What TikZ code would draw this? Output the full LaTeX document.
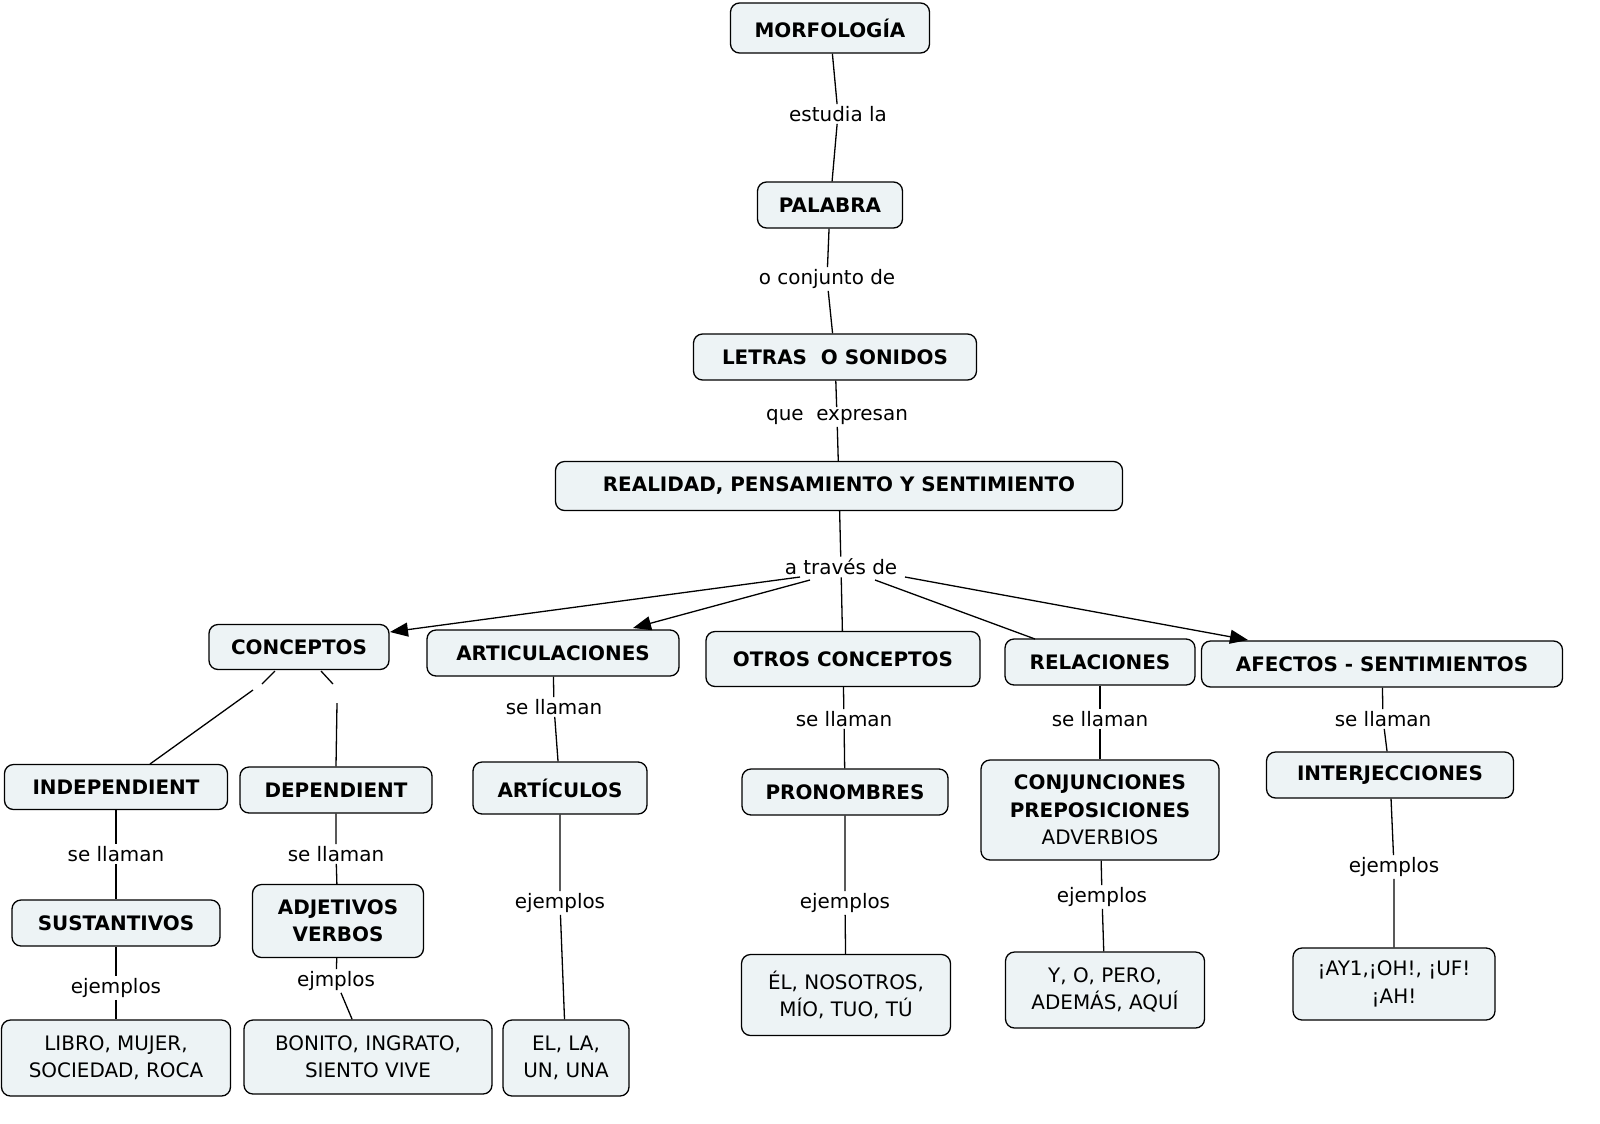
\documentclass[tikz,border=0pt]{standalone}
\usepackage{fontspec}
\setmainfont{DejaVu Sans}
\usetikzlibrary{arrows.meta}
\definecolor{boxfill}{HTML}{EDF3F5}
\begin{document}
\begin{tikzpicture}[x=1bp,y=-1bp,
  box/.style={draw=black,line width=1.3bp,rounded corners=9bp,fill=boxfill,inner sep=0pt,align=center,font=\fontsize{20}{27.5}\selectfont\bfseries},
  plain/.style={box,font=\fontsize{20}{27.5}\selectfont},
  lbl/.style={inner sep=2pt,font=\fontsize{20}{24}\selectfont},
  ln/.style={line width=1.3bp},
  arr/.style={ln,-{Triangle[length=18bp,width=14bp]}}]
\useasboundingbox (0,0) rectangle (1600,1123);
\node[box,minimum width=199bp,minimum height=50bp] (morf) at (830,28) {MORFOLOGÍA};
\node[box,minimum width=145bp,minimum height=46bp] (pal) at (830,205) {PALABRA};
\node[box,minimum width=283bp,minimum height=46bp] (let) at (835,357) {LETRAS\ \ O SONIDOS};
\node[box,minimum width=567bp,minimum height=49bp] (real) at (839,486) {REALIDAD, PENSAMIENTO Y SENTIMIENTO};
\node[lbl] (l1) at (838,114) {estudia la};
\node[lbl] (l2) at (827,279) {o conjunto de};
\node[lbl] (l3) at (837,417) {que\ \ expresan};
\node[lbl] (tr) at (841,567) {a través de};
\draw[ln] (morf) -- (l1) -- (pal);
\draw[ln] (pal) -- (l2) -- (let);
\draw[ln] (let) -- (l3) -- (real);
\draw[ln] (real) -- (tr);

\node[box,minimum width=180bp,minimum height=45bp] (conc) at (299,647) {CONCEPTOS};
\node[box,minimum width=252bp,minimum height=46bp] (art) at (553,653) {ARTICULACIONES};
\node[box,minimum width=274bp,minimum height=55bp] (otros) at (843,659) {OTROS CONCEPTOS};
\node[box,minimum width=190bp,minimum height=46bp] (rel) at (1100,662) {RELACIONES};
\node[box,minimum width=361bp,minimum height=46bp] (afe) at (1382,664) {AFECTOS - SENTIMIENTOS};
\coordinate (tA) at (800,577);
\coordinate (tB) at (810,580);
\coordinate (tD) at (875,580);
\coordinate (tE) at (905,577);
\draw[arr] (tA) -- (390,632);
\draw[arr] (tB) -- (633,628);
\draw[ln] (tr) -- (otros);
\draw[ln] (tD) -- (1035,639);
\draw[arr] (tE) -- (1248,640);

\node[box,minimum width=223bp,minimum height=45bp] (ind) at (116,787) {INDEPENDIENT};
\node[box,minimum width=192bp,minimum height=46bp] (dep) at (336,790) {DEPENDIENT};
\coordinate (c1) at (275,671); \coordinate (c2) at (262,684);
\coordinate (c3) at (253,690);
\coordinate (c4) at (321,671); \coordinate (c5) at (333,684);
\coordinate (c6) at (337,703);
\draw[ln] (c1) -- (c2);
\draw[ln] (c3) -- (150,764);
\draw[ln] (c4) -- (c5);
\draw[ln] (c6) -- (dep.north);

\node[box,minimum width=174bp,minimum height=52bp] (arts) at (560,788) {ARTÍCULOS};
\node[box,minimum width=206bp,minimum height=46bp] (pron) at (845,792) {PRONOMBRES};
\node[box,minimum width=238bp,minimum height=100bp] (conj) at (1100,810) {CONJUNCIONES\\PREPOSICIONES\\\mdseries ADVERBIOS};
\node[box,minimum width=247bp,minimum height=46bp] (interj) at (1390,775) {INTERJECCIONES};
\node[lbl] (s1) at (554,707) {se llaman};
\node[lbl] (s2) at (844,719) {se llaman};
\node[lbl] (s3) at (1100,719) {se llaman};
\node[lbl] (s4) at (1383,719) {se llaman};
\draw[ln] (art) -- (s1) -- (arts);
\draw[ln] (otros) -- (s2) -- (pron);
\draw[ln] (rel) -- (s3) -- (conj);
\draw[ln] (afe) -- (s4) -- (interj);

\node[box,minimum width=208bp,minimum height=46bp] (sus) at (116,923) {SUSTANTIVOS};
\node[box,minimum width=171bp,minimum height=73bp] (adj) at (338,921) {ADJETIVOS\\VERBOS};
\node[lbl] (s5) at (116,854) {se llaman};
\node[lbl] (s6) at (336,854) {se llaman};
\draw[ln] (ind) -- (s5) -- (sus);
\draw[ln] (dep) -- (s6) -- (adj);

\node[plain,minimum width=229bp,minimum height=76bp] (libro) at (116,1058) {LIBRO, MUJER,\\SOCIEDAD, ROCA};
\node[plain,minimum width=248bp,minimum height=74bp] (bon) at (368,1057) {BONITO, INGRATO,\\SIENTO VIVE};
\node[plain,minimum width=126bp,minimum height=76bp] (el) at (566,1058) {EL, LA,\\UN, UNA};
\node[plain,minimum width=209bp,minimum height=81bp] (nos) at (846,995) {ÉL, NOSOTROS,\\MÍO, TUO, TÚ};
\node[plain,minimum width=199bp,minimum height=76bp] (pero) at (1105,990) {Y, O, PERO,\\ADEMÁS, AQUÍ};
\node[plain,minimum width=202bp,minimum height=72bp] (ay) at (1394,984) {¡AY1,¡OH!, ¡UF!\\¡AH!};
\node[lbl] (e1) at (116,988) {ejemplos};
\node[lbl] (e2) at (336,981) {ejmplos};
\node[lbl] (e3) at (560,903) {ejemplos};
\node[lbl] (e4) at (845,903) {ejemplos};
\node[lbl] (e5) at (1102,897) {ejemplos};
\node[lbl] (e6) at (1394,867) {ejemplos};
\draw[ln] (sus) -- (e1) -- (libro);
\draw[ln] (adj) -- (e2) -- (bon);
\draw[ln] (arts) -- (e3) -- (el);
\draw[ln] (pron) -- (e4) -- (nos);
\draw[ln] (conj) -- (e5) -- (pero);
\draw[ln] (interj) -- (e6) -- (ay);
\end{tikzpicture}
\end{document}
